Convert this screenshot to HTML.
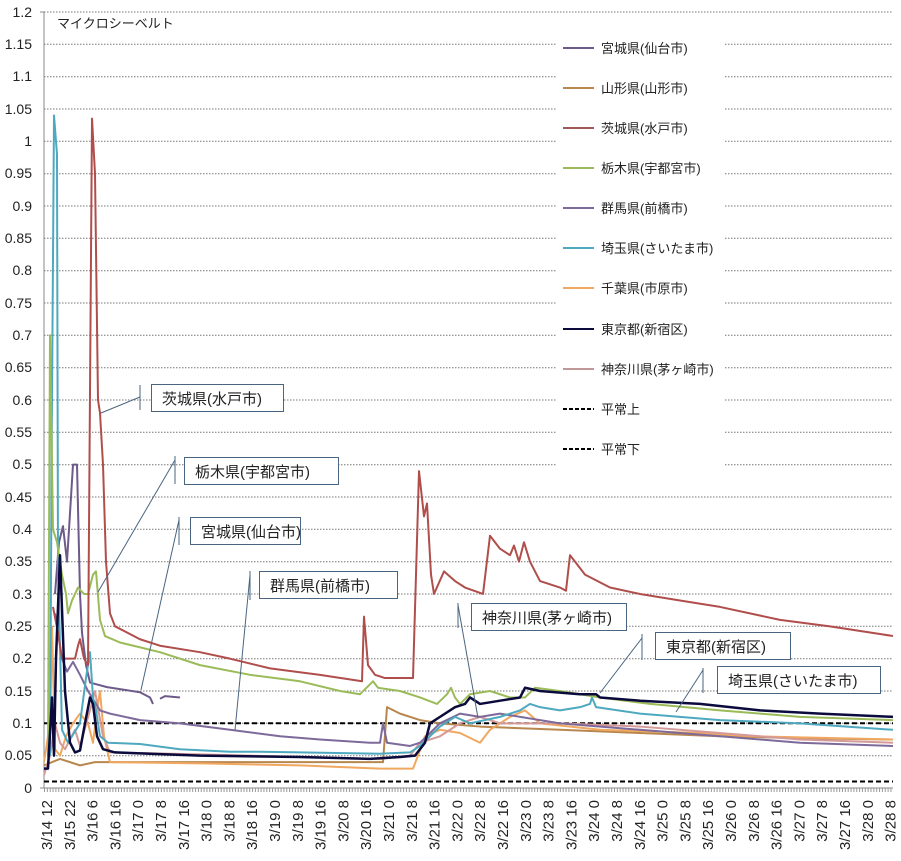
<!DOCTYPE html>
<html><head><meta charset="utf-8"><style>
body{margin:0;background:#fff;}
svg{display:block;font-family:"Liberation Sans","Noto Sans CJK JP",sans-serif;}
</style></head><body>
<svg width="901" height="861" viewBox="0 0 901 861" xmlns="http://www.w3.org/2000/svg">
<rect width="901" height="861" fill="#fff"/>
<g stroke="#777" stroke-width="1" stroke-dasharray="1.5 1.5">
<line x1="44" x2="893" y1="12" y2="12"/><line x1="44" x2="893" y1="44.3" y2="44.3"/><line x1="44" x2="893" y1="76.7" y2="76.7"/><line x1="44" x2="893" y1="109" y2="109"/><line x1="44" x2="893" y1="141.3" y2="141.3"/><line x1="44" x2="893" y1="173.7" y2="173.7"/><line x1="44" x2="893" y1="206" y2="206"/><line x1="44" x2="893" y1="238.3" y2="238.3"/><line x1="44" x2="893" y1="270.7" y2="270.7"/><line x1="44" x2="893" y1="303" y2="303"/><line x1="44" x2="893" y1="335.3" y2="335.3"/><line x1="44" x2="893" y1="367.7" y2="367.7"/><line x1="44" x2="893" y1="400" y2="400"/><line x1="44" x2="893" y1="432.3" y2="432.3"/><line x1="44" x2="893" y1="464.7" y2="464.7"/><line x1="44" x2="893" y1="497" y2="497"/><line x1="44" x2="893" y1="529.3" y2="529.3"/><line x1="44" x2="893" y1="561.7" y2="561.7"/><line x1="44" x2="893" y1="594" y2="594"/><line x1="44" x2="893" y1="626.3" y2="626.3"/><line x1="44" x2="893" y1="658.7" y2="658.7"/><line x1="44" x2="893" y1="691" y2="691"/><line x1="44" x2="893" y1="723.3" y2="723.3"/><line x1="44" x2="893" y1="755.7" y2="755.7"/>
</g>
<rect x="557" y="30" width="168" height="436" fill="#fff"/>
<line x1="44" y1="12" x2="44" y2="788" stroke="#888"/>
<line x1="44" y1="788" x2="893" y2="788" stroke="#888"/>
<line x1="44" y1="790" x2="893" y2="790" stroke="#999" stroke-width="4" stroke-dasharray="1 1.85"/>
<g stroke="#888"><line x1="40" x2="44" y1="12" y2="12"/><line x1="40" x2="44" y1="788" y2="788"/></g>
<g font-size="14" fill="#222" text-anchor="end">
<text x="32" y="17">1.2</text><text x="32" y="49">1.15</text><text x="32" y="81">1.1</text><text x="32" y="114">1.05</text><text x="32" y="146">1</text><text x="32" y="178">0.95</text><text x="32" y="211">0.9</text><text x="32" y="243">0.85</text><text x="32" y="275">0.8</text><text x="32" y="308">0.75</text><text x="32" y="340">0.7</text><text x="32" y="372">0.65</text><text x="32" y="405">0.6</text><text x="32" y="437">0.55</text><text x="32" y="469">0.5</text><text x="32" y="502">0.45</text><text x="32" y="534">0.4</text><text x="32" y="566">0.35</text><text x="32" y="599">0.3</text><text x="32" y="631">0.25</text><text x="32" y="663">0.2</text><text x="32" y="696">0.15</text><text x="32" y="728">0.1</text><text x="32" y="760">0.05</text><text x="32" y="793">0</text>
</g>
<text x="57" y="28" font-size="13" fill="#222">マイクロシーベルト</text>
<g font-size="15" fill="#222" text-anchor="end">
<text transform="translate(52,800) rotate(-90)">3/14 12</text>
<text transform="translate(74.8,800) rotate(-90)">3/15 22</text>
<text transform="translate(97.6,800) rotate(-90)">3/16 6</text>
<text transform="translate(120.4,800) rotate(-90)">3/16 16</text>
<text transform="translate(143.2,800) rotate(-90)">3/17 0</text>
<text transform="translate(166,800) rotate(-90)">3/17 8</text>
<text transform="translate(188.8,800) rotate(-90)">3/17 16</text>
<text transform="translate(211.6,800) rotate(-90)">3/18 0</text>
<text transform="translate(234.4,800) rotate(-90)">3/18 8</text>
<text transform="translate(257.2,800) rotate(-90)">3/18 16</text>
<text transform="translate(280,800) rotate(-90)">3/19 0</text>
<text transform="translate(302.8,800) rotate(-90)">3/19 8</text>
<text transform="translate(325.6,800) rotate(-90)">3/19 16</text>
<text transform="translate(348.4,800) rotate(-90)">3/20 8</text>
<text transform="translate(371.2,800) rotate(-90)">3/20 16</text>
<text transform="translate(394,800) rotate(-90)">3/21 0</text>
<text transform="translate(416.8,800) rotate(-90)">3/21 8</text>
<text transform="translate(439.6,800) rotate(-90)">3/21 16</text>
<text transform="translate(462.4,800) rotate(-90)">3/22 0</text>
<text transform="translate(485.2,800) rotate(-90)">3/22 8</text>
<text transform="translate(508,800) rotate(-90)">3/22 16</text>
<text transform="translate(530.8,800) rotate(-90)">3/23 0</text>
<text transform="translate(553.6,800) rotate(-90)">3/23 8</text>
<text transform="translate(576.4,800) rotate(-90)">3/23 16</text>
<text transform="translate(599.2,800) rotate(-90)">3/24 0</text>
<text transform="translate(622,800) rotate(-90)">3/24 8</text>
<text transform="translate(644.8,800) rotate(-90)">3/24 16</text>
<text transform="translate(667.6,800) rotate(-90)">3/25 0</text>
<text transform="translate(690.4,800) rotate(-90)">3/25 8</text>
<text transform="translate(713.2,800) rotate(-90)">3/25 16</text>
<text transform="translate(736,800) rotate(-90)">3/26 0</text>
<text transform="translate(758.8,800) rotate(-90)">3/26 8</text>
<text transform="translate(781.6,800) rotate(-90)">3/26 16</text>
<text transform="translate(804.4,800) rotate(-90)">3/27 0</text>
<text transform="translate(827.2,800) rotate(-90)">3/27 8</text>
<text transform="translate(850,800) rotate(-90)">3/27 16</text>
<text transform="translate(872.8,800) rotate(-90)">3/28 0</text>
<text transform="translate(895.6,800) rotate(-90)">3/28 8</text>
</g>
<g stroke="#000" stroke-width="2" stroke-dasharray="5 3">
<line x1="44" x2="893" y1="723.3" y2="723.3"/>
<line x1="44" x2="893" y1="781.5" y2="781.5"/>
</g>
<g transform="translate(0,788) scale(1,-646.7)" fill="none" stroke-linejoin="round">
<polyline vector-effect="non-scaling-stroke" stroke="#b8874e" stroke-width="2" points="44,0.035 60,0.045 70,0.04 80,0.035 95,0.04 110,0.04 200,0.04 300,0.04 383,0.04 387,0.125 400,0.115 420,0.105 440,0.1 480,0.095 560,0.09 640,0.085 720,0.08 800,0.077 893,0.075"/>
<polyline vector-effect="non-scaling-stroke" stroke="#f0a860" stroke-width="2" points="44,0.04 50,0.1 52,0.25 55,0.06 60,0.05 66,0.08 73,0.1 80,0.115 88,0.1 93,0.07 97,0.12 100,0.15 104,0.08 110,0.04 200,0.038 300,0.035 380,0.03 413,0.03 418,0.05 425,0.08 440,0.09 460,0.085 480,0.07 490,0.09 510,0.11 525,0.12 540,0.1 600,0.09 700,0.085 750,0.08 893,0.075"/>
<polyline vector-effect="non-scaling-stroke" stroke="#d59a98" stroke-width="2" points="44,0.02 50,0.05 55,0.1 60,0.07 65,0.06 75,0.09 80,0.065 90,0.12 95,0.15 103,0.08 110,0.055 200,0.052 300,0.048 380,0.045 410,0.05 420,0.07 440,0.08 460,0.1 480,0.11 500,0.1 560,0.1 640,0.095 720,0.085 800,0.075 893,0.07"/>
<polyline vector-effect="non-scaling-stroke" stroke="#7d6a9b" stroke-width="2" points="55,0.27 62,0.2 67,0.18 73,0.195 80,0.175 88,0.15 92,0.14 100,0.12 110,0.115 140,0.105 180,0.1 230,0.09 280,0.08 320,0.075 370,0.07 380,0.07 383,0.1 387,0.07 410,0.065 420,0.07 440,0.1 460,0.115 480,0.11 500,0.115 560,0.1 640,0.09 720,0.08 800,0.07 893,0.065"/>
<polyline vector-effect="non-scaling-stroke" stroke="#6e5a8a" stroke-width="2" points="55,0.3 59,0.38 63,0.405 67,0.35 71,0.45 73,0.5 77,0.5 80,0.3 82,0.24 86,0.19 90,0.163 107,0.156 140,0.148 150,0.14 153,0.13"/>
<polyline vector-effect="non-scaling-stroke" stroke="#6e5a8a" stroke-width="2" points="160,0.138 165,0.142 180,0.14"/>
<polyline vector-effect="non-scaling-stroke" stroke="#4ea8bf" stroke-width="2" points="50,0.05 52,0.6 54,1.04 57,0.98 58,0.35 62,0.09 68,0.07 72,0.08 80,0.1 86,0.17 90,0.21 93,0.14 96,0.12 100,0.08 108,0.07 140,0.068 180,0.06 230,0.056 260,0.056 300,0.055 380,0.053 410,0.055 420,0.065 430,0.08 440,0.095 455,0.11 470,0.1 500,0.11 520,0.12 530,0.13 540,0.125 560,0.12 580,0.125 590,0.13 592,0.14 596,0.125 640,0.115 680,0.11 720,0.105 800,0.1 893,0.09"/>
<polyline vector-effect="non-scaling-stroke" stroke="#9bbb59" stroke-width="2" points="48,0.05 50,0.7 53,0.4 57,0.38 62,0.33 66,0.3 68,0.27 72,0.29 78,0.31 84,0.3 88,0.3 93,0.33 96,0.335 100,0.26 105,0.235 120,0.225 160,0.21 200,0.19 250,0.175 300,0.165 340,0.15 360,0.145 373,0.165 378,0.155 400,0.15 420,0.14 437,0.13 447,0.145 451,0.155 455,0.14 460,0.13 470,0.145 490,0.15 510,0.14 525,0.14 535,0.155 560,0.15 600,0.14 650,0.13 720,0.12 800,0.11 893,0.105"/>
<polyline vector-effect="non-scaling-stroke" stroke="#b04e4c" stroke-width="2" points="53,0.28 58,0.24 62,0.2 67,0.2 75,0.2 78,0.22 80,0.23 84,0.2 88,0.19 92,1.035 95,0.95 98,0.6 100,0.58 103,0.5 106,0.35 110,0.27 115,0.25 140,0.23 160,0.22 200,0.21 230,0.2 270,0.185 320,0.175 362,0.165 364,0.265 368,0.19 375,0.175 385,0.17 413,0.17 419,0.49 424,0.42 427,0.44 431,0.33 434,0.3 444,0.335 455,0.32 465,0.31 483,0.3 490,0.39 500,0.37 510,0.36 514,0.375 519,0.35 524,0.38 530,0.35 540,0.32 560,0.31 566,0.305 570,0.36 575,0.35 585,0.33 610,0.31 640,0.3 680,0.29 720,0.28 780,0.26 830,0.25 893,0.235"/>
<polyline vector-effect="non-scaling-stroke" stroke="#0a0a3c" stroke-width="2.5" points="44,0.03 48,0.03 52,0.14 54,0.05 56,0.2 60,0.36 65,0.15 70,0.07 75,0.055 80,0.058 85,0.1 90,0.14 93,0.13 97,0.08 103,0.06 115,0.055 200,0.05 300,0.048 370,0.045 400,0.048 415,0.05 425,0.07 430,0.1 440,0.11 455,0.125 465,0.13 470,0.14 480,0.13 500,0.135 520,0.14 525,0.155 540,0.15 580,0.145 596,0.145 600,0.14 640,0.135 700,0.13 760,0.12 820,0.115 893,0.11"/>
</g>
<g stroke="#4a6580" stroke-width="1" fill="none">
<line x1="140" y1="385" x2="140" y2="410"/><line x1="140" y1="397" x2="101" y2="413"/>
<line x1="175" y1="456" x2="175" y2="484"/><line x1="175" y1="460" x2="98" y2="592"/>
<line x1="179" y1="517" x2="179" y2="545"/><line x1="179" y1="520" x2="141" y2="690"/>
<line x1="250" y1="571" x2="250" y2="600"/><line x1="250" y1="575" x2="235" y2="730"/>
<line x1="458" y1="603" x2="458" y2="628"/><line x1="458" y1="605" x2="478" y2="718"/>
<line x1="642" y1="634" x2="642" y2="660"/><line x1="642" y1="638" x2="600" y2="693"/>
<line x1="703" y1="668" x2="703" y2="693"/><line x1="703" y1="670" x2="676" y2="712"/>
</g>
<g stroke="#4a6580" stroke-width="1" fill="#fff">
<rect x="151.5" y="384.5" width="132" height="27"/>
<rect x="184.5" y="457.5" width="154" height="27"/>
<rect x="190.5" y="517.5" width="110" height="27"/>
<rect x="259.5" y="571.5" width="138" height="27"/>
<rect x="471.5" y="603.5" width="155" height="27"/>
<rect x="655.5" y="632.5" width="135" height="27"/>
<rect x="717.5" y="666.5" width="163" height="27"/>
</g>
<g font-size="15" fill="#222">
<text x="162" y="404">茨城県(水戸市)</text>
<text x="195" y="477">栃木県(宇都宮市)</text>
<text x="201" y="537">宮城県(仙台市)</text>
<text x="270" y="591">群馬県(前橋市)</text>
<text x="482" y="623">神奈川県(茅ヶ崎市)</text>
<text x="666" y="652">東京都(新宿区)</text>
<text x="728" y="686">埼玉県(さいたま市)</text>
</g>
<g stroke-width="2">
<line x1="563" x2="594" y1="48" y2="48" stroke="#6e5a8a"/>
<line x1="563" x2="594" y1="88" y2="88" stroke="#b8874e"/>
<line x1="563" x2="594" y1="128" y2="128" stroke="#a05a58"/>
<line x1="563" x2="594" y1="168" y2="168" stroke="#9bbb59"/>
<line x1="563" x2="594" y1="208" y2="208" stroke="#7d6a9b"/>
<line x1="563" x2="594" y1="248" y2="248" stroke="#4ea8bf"/>
<line x1="563" x2="594" y1="288" y2="288" stroke="#f0a860"/>
<line x1="563" x2="594" y1="329" y2="329" stroke="#0a0a3c"/>
<line x1="563" x2="594" y1="369" y2="369" stroke="#c09898"/>
<line x1="563" x2="594" y1="409" y2="409" stroke="#000" stroke-dasharray="4 2"/>
<line x1="563" x2="594" y1="449" y2="449" stroke="#000" stroke-dasharray="4 2"/>
</g>
<g font-size="13" fill="#222">
<text x="601" y="53">宮城県(仙台市)</text>
<text x="601" y="93">山形県(山形市)</text>
<text x="601" y="133">茨城県(水戸市)</text>
<text x="601" y="173">栃木県(宇都宮市)</text>
<text x="601" y="213">群馬県(前橋市)</text>
<text x="601" y="253">埼玉県(さいたま市)</text>
<text x="601" y="293">千葉県(市原市)</text>
<text x="601" y="334">東京都(新宿区)</text>
<text x="601" y="374">神奈川県(茅ヶ崎市)</text>
<text x="601" y="414">平常上</text>
<text x="601" y="454">平常下</text>
</g>
</svg>
</body></html>
